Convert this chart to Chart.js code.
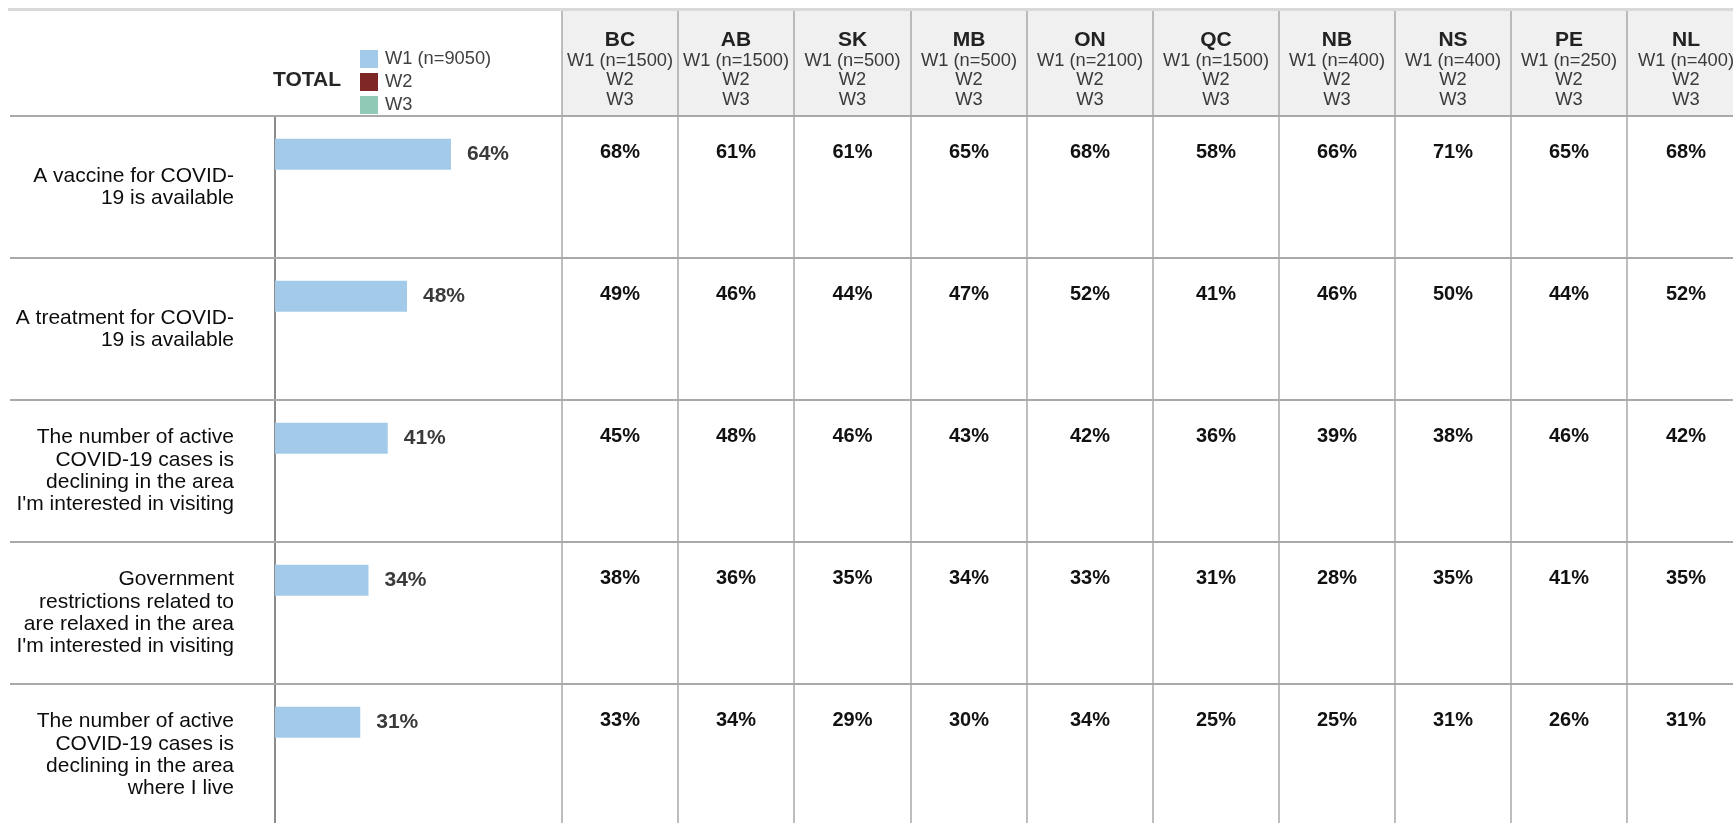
<!DOCTYPE html>
<html>
<head>
<meta charset="utf-8">
<script src="https://cdn.jsdelivr.net/npm/chart.js@4.4.1/dist/chart.umd.min.js"></script>
<style>
  html, body { margin:0; padding:0; background:#fff; overflow:hidden; }
  canvas { display:block; }
</style>
</head>
<body>
<canvas id="tableChart" width="1733" height="830"></canvas>
<script>
// Data
const statements = [
  ['A vaccine for COVID-', '19 is available'],
  ['A treatment for COVID-', '19 is available'],
  ['The number of active', 'COVID-19 cases is', 'declining in the area', "I'm interested in visiting"],
  ['Government', 'restrictions related to', 'are relaxed in the area', "I'm interested in visiting"],
  ['The number of active', 'COVID-19 cases is', 'declining in the area', 'where I live']
];
const waves = ['W1 (n=9050)', 'W2', 'W3'];
const totalW1 = [64, 48, 41, 34, 31];
const totalW2 = [null, null, null, null, null];
const totalW3 = [null, null, null, null, null];

const provinces = ['BC', 'AB', 'SK', 'MB', 'ON', 'QC', 'NB', 'NS', 'PE', 'NL'];
const provinceSamples = ['W1 (n=1500)', 'W1 (n=1500)', 'W1 (n=500)', 'W1 (n=500)', 'W1 (n=2100)',
  'W1 (n=1500)', 'W1 (n=400)', 'W1 (n=400)', 'W1 (n=250)', 'W1 (n=400)'];
const valuesBC = [68, 49, 45, 38, 33];
const valuesAB = [61, 46, 48, 36, 34];
const valuesSK = [61, 44, 46, 35, 29];
const valuesMB = [65, 47, 43, 34, 30];
const valuesON = [68, 52, 42, 33, 34];
const valuesQC = [58, 41, 36, 31, 25];
const valuesNB = [66, 46, 39, 28, 25];
const valuesNS = [71, 50, 38, 35, 31];
const valuesPE = [65, 44, 46, 41, 26];
const valuesNL = [68, 52, 42, 35, 31];
const provinceValues = [valuesBC, valuesAB, valuesSK, valuesMB, valuesON, valuesQC, valuesNB, valuesNS, valuesPE, valuesNL];

// Layout
const FONT = '"Liberation Sans", Arial, sans-serif';
const colLeft = 562;
const colWidths = [116, 116, 117, 116, 126, 126, 116, 116, 116, 118];
const headerTop = 11;

Chart.defaults.font.family = FONT;

// table around the bars: header, grid lines, province values, legend
const rowTable = {
  id: 'rowTable',
  beforeDraw(chart) {
    const {ctx, width, chartArea} = chart;
    ctx.save();
    ctx.fillStyle = '#d9d9d9';
    ctx.fillRect(8, 8, width - 8, 3);
    ctx.fillStyle = '#f0f0f0';
    ctx.fillRect(colLeft, headerTop, width - colLeft, chartArea.top - headerTop);
    ctx.restore();
  },
  afterDraw(chart) {
    const {ctx, width, height} = chart;
    const y = chart.scales.y;
    const band = y.getPixelForValue(1) - y.getPixelForValue(0);
    const rowTop = i => y.getPixelForValue(i) - band / 2;
    ctx.save();

    // row lines
    ctx.strokeStyle = '#a9a9a9';
    ctx.lineWidth = 2;
    statements.forEach((s, i) => {
      ctx.beginPath(); ctx.moveTo(10, rowTop(i)); ctx.lineTo(width, rowTop(i)); ctx.stroke();
    });

    // column lines
    const edges = [colLeft];
    colWidths.forEach(w => edges.push(edges[edges.length - 1] + w));
    ctx.lineWidth = 1.5;
    edges.forEach(ex => {
      ctx.beginPath(); ctx.moveTo(ex, headerTop); ctx.lineTo(ex, height); ctx.stroke();
    });

    // header + province values
    ctx.textAlign = 'center';
    ctx.textBaseline = 'middle';
    provinces.forEach((p, i) => {
      const cx = (edges[i] + edges[i + 1]) / 2;
      ctx.font = 'bold 21px ' + FONT; ctx.fillStyle = '#222';
      ctx.fillText(p, cx, 40);
      ctx.font = '18.3px ' + FONT; ctx.fillStyle = '#3a3a3a';
      [provinceSamples[i], waves[1], waves[2]].forEach((t, k) => ctx.fillText(t, cx, 60.5 + k * 19.5));
      ctx.font = 'bold 20px ' + FONT; ctx.fillStyle = '#111';
      provinceValues[i].forEach((v, r) => ctx.fillText(v + '%', cx, rowTop(r) + 36.5));
    });

    // total bar labels
    ctx.textAlign = 'left';
    ctx.font = 'bold 21px ' + FONT; ctx.fillStyle = '#3a3a3a';
    chart.getDatasetMeta(0).data.forEach((bar, i) => ctx.fillText(totalW1[i] + '%', bar.x + 16, bar.y));

    // legend
    ctx.font = 'bold 21px ' + FONT; ctx.fillStyle = '#262626';
    ctx.fillText('TOTAL', 273, 80);
    chart.data.datasets.forEach((ds, i) => {
      const top = 50 + i * 23;
      ctx.fillStyle = ds.backgroundColor; ctx.fillRect(360, top, 18, 18);
      ctx.font = '18.3px ' + FONT; ctx.fillStyle = '#404040';
      ctx.fillText(ds.label, 385, top + 9);
    });
    ctx.restore();
  }
};

new Chart(document.getElementById('tableChart'), {
  type: 'bar',
  data: {
    labels: statements,
    datasets: [
      {label: waves[0], data: totalW1, backgroundColor: '#a3cbe9'},
      {label: waves[1], data: totalW2, backgroundColor: '#7f2626'},
      {label: waves[2], data: totalW3, backgroundColor: '#90c9b5'}
    ]
  },
  options: {
    indexAxis: 'y',
    responsive: false,
    animation: false,
    barPercentage: 0.95,
    categoryPercentage: 0.69,
    layout: {padding: {top: 116, bottom: 4, left: 0, right: 1733 - 550}},
    plugins: {legend: {display: false}, tooltip: {enabled: false}},
    scales: {
      x: {display: false, min: 0, max: 100},
      y: {
        grid: {display: false, drawTicks: false},
        border: {display: true, color: '#8c8c8c', width: 2},
        ticks: {color: '#0d0d0d', padding: 41, crossAlign: 'near', font: {size: 21, lineHeight: 1.06}},
        afterFit(scale) {
          scale.width = 275;
          scale.paddingTop = 0;
          scale.paddingBottom = 0;
        }
      }
    }
  },
  plugins: [rowTable]
});
</script>
</body>
</html>
